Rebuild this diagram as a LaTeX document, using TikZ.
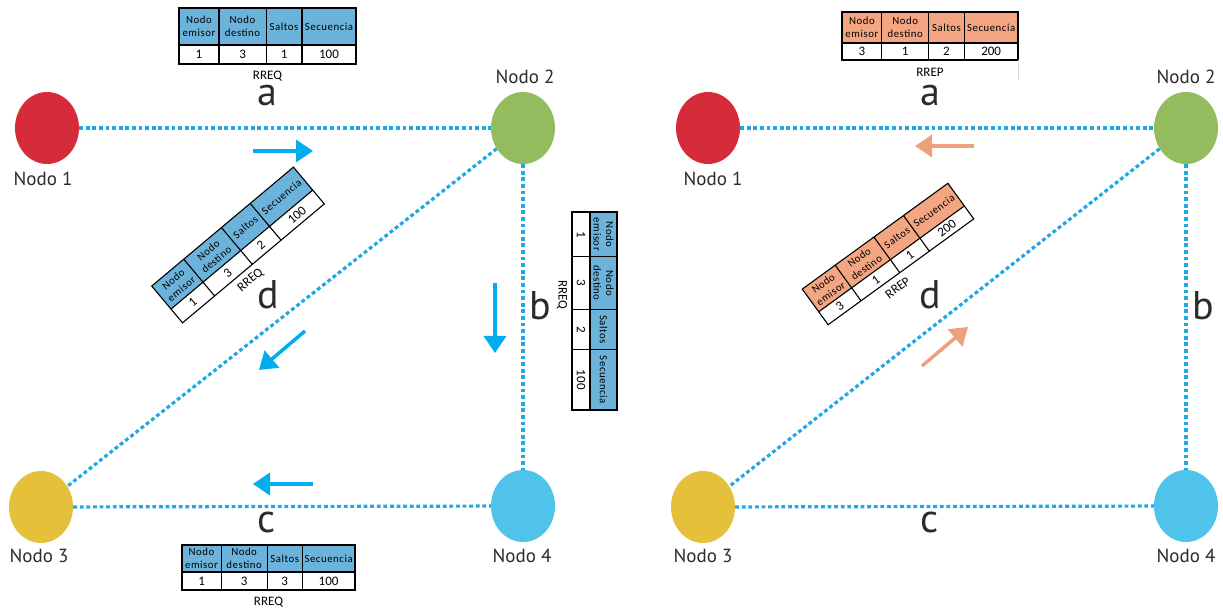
\documentclass[tikz,border=0pt]{standalone}
\usepackage{fontspec}
\setmainfont{PT Sans}
\newfontfamily\tabfont{Carlito}
\newfontfamily\tabheadfont{Carlito}[LetterSpace=5]
\usetikzlibrary{shapes.geometric,arrows.meta}

\definecolor{nred}{HTML}{D62B3A}
\definecolor{ngreen}{HTML}{93BC5E}
\definecolor{nyellow}{HTML}{E5C03A}
\definecolor{nblue}{HTML}{4FC3EA}
\definecolor{linkblue}{HTML}{1FA9E3}
\definecolor{arrblue}{HTML}{00AEEF}
\definecolor{arrsalmon}{HTML}{ECA07D}
\definecolor{hdblue}{HTML}{6CB3DB}
\definecolor{hdsalmon}{HTML}{F4A582}
\definecolor{labgray}{HTML}{2B2B2B}

\tikzset{
  nodo/.style={ellipse, minimum width=64pt, minimum height=72pt, inner sep=0pt, draw=none},
  nlab/.style={font=\fontsize{19}{22}\selectfont, text=labgray, inner sep=0pt},
  elab/.style={font=\fontsize{40}{44}\selectfont, text=labgray, inner sep=0pt},
  link/.style={draw=linkblue, line width=3.2pt, dash pattern=on 3.8pt off 2.8pt},
  flow/.style={line width=3.5pt, -{Triangle[length=17pt,width=22pt]}},
  tabline/.style={draw=black, line width=1.1pt},
  hd/.style={font=\tabheadfont\fontsize{10.8}{12.5}\selectfont, align=center, inner sep=0pt},
  val/.style={font=\tabfont\fontsize{13}{14}\selectfont, inner sep=0pt},
  plab/.style={font=\tabfont\fontsize{13}{14}\selectfont, inner sep=0pt},
}

\def\labdx{0}
\def\labdy{12}
\newcommand{\pktvals}[5]{%
  \node[val] (#1-v1) at ({(\pkXa+\pkXb)/2},{(\pkYb+\pkYc)/2}) {#2};
  \node[val] (#1-v2) at ({(\pkXb+\pkXc)/2},{(\pkYb+\pkYc)/2}) {#3};
  \node[val] (#1-v3) at ({(\pkXc+\pkXd)/2},{(\pkYb+\pkYc)/2}) {#4};
  \node[val] (#1-v4) at ({(\pkXd+\pkXe)/2},{(\pkYb+\pkYc)/2}) {#5};
}
% #1 name, #2 centre, #3 angle, #4 width, #5 header h, #6 data h, #7 fill, #8 label, #9 values
\newcommand{\pkt}[9]{%
  \begin{scope}[shift={#2}, rotate=#3, transform shape]
    \pgfmathsetmacro{\pkW}{#4}
    \pgfmathsetmacro{\pkXa}{-\pkW/2}
    \pgfmathsetmacro{\pkXb}{\pkXa+0.226*\pkW}
    \pgfmathsetmacro{\pkXc}{\pkXa+0.492*\pkW}
    \pgfmathsetmacro{\pkXd}{\pkXa+0.695*\pkW}
    \pgfmathsetmacro{\pkXe}{\pkW/2}
    \pgfmathsetmacro{\pkYa}{-(#5+#6)/2}
    \pgfmathsetmacro{\pkYb}{\pkYa+#5}
    \pgfmathsetmacro{\pkYc}{\pkYb+#6}
    \fill[#7] (\pkXa,\pkYa) rectangle (\pkXe,\pkYb);
    \draw[tabline] (\pkXa,\pkYa) rectangle (\pkXe,\pkYc)
      (\pkXa,\pkYb) -- (\pkXe,\pkYb)
      (\pkXb,\pkYa) -- (\pkXb,\pkYc)
      (\pkXc,\pkYa) -- (\pkXc,\pkYc)
      (\pkXd,\pkYa) -- (\pkXd,\pkYc);
    \node[hd] (#1-h1) at ({(\pkXa+\pkXb)/2},{(\pkYa+\pkYb)/2}) {Nodo\\emisor};
    \node[hd] (#1-h2) at ({(\pkXb+\pkXc)/2},{(\pkYa+\pkYb)/2}) {Nodo\\destino};
    \node[hd] (#1-h3) at ({(\pkXc+\pkXd)/2},{(\pkYa+\pkYb)/2}) {Saltos};
    \node[hd] (#1-h4) at ({(\pkXd+\pkXe)/2},{(\pkYa+\pkYb)/2}) {Secuencia};
    \pktvals{#1}#9
    \node[plab] (#1-lab) at (\labdx,{\pkYc+\labdy}) {#8};
  \end{scope}}

\begin{document}
\begin{tikzpicture}[x=1pt,y=-1pt]
\useasboundingbox (0,0) rectangle (1223,609);

%%%%%%%%%% LEFT PANEL %%%%%%%%%%
\node[nodo, fill=nred]    (L1) at (47,128) {};
\node[nodo, fill=ngreen]  (L2) at (523,128) {};
\node[nodo, fill=nyellow] (L3) at (41,507) {};
\node[nodo, fill=nblue]   (L4) at (523,506) {};
\node[nlab] (L1t) at (43,179) {Nodo 1};
\node[nlab] (L2t) at (525,77) {Nodo 2};
\node[nlab] (L3t) at (39,556) {Nodo 3};
\node[nlab] (L4t) at (522,556) {Nodo 4};

\draw[link] (L1) -- (L2);
\draw[link] (L2) -- (L4);
\draw[link] (L3) -- (L4);
\draw[link] (L2) -- (L3);

\node[elab] (La) at (267,96) {a};
\node[elab] (Lb) at (540,306) {b};
\node[elab] (Lc) at (267,522) {c};
\node[elab] (Ld) at (268,295) {d};

\coordinate (La0) at (253,151); \coordinate (La1) at (313,151);
\coordinate (Lb0) at (495,283); \coordinate (Lb1) at (495,353);
\coordinate (Lc0) at (313,484); \coordinate (Lc1) at (253,484);
\coordinate (Ld0) at (305,331); \coordinate (Ld1) at (259,370);
\draw[flow, arrblue] (La0) -- (La1);
\draw[flow, arrblue] (Lb0) -- (Lb1);
\draw[flow, arrblue] (Lc0) -- (Lc1);
\draw[flow, arrblue] (Ld0) -- (Ld1);

\def\labdx{0}\def\labdy{12}
\pkt{Ta}{(267.5,36)}{0}{177}{37}{19}{hdblue}{RREQ}{{1}{3}{1}{100}}
\pkt{Tc}{(268.5,567.5)}{0}{173}{27}{18}{hdblue}{RREQ}{{1}{3}{3}{100}}
\def\labdx{-13}\def\labdy{11}
\pkt{Td}{(238,245)}{40}{185}{30}{18}{hdblue}{RREQ}{{1}{3}{2}{100}}
\def\labdx{-16}\def\labdy{10}
\pkt{Tb}{(594.5,311)}{-90}{198}{27}{18}{hdblue}{RREQ}{{1}{3}{2}{100}}

%%%%%%%%%% RIGHT PANEL %%%%%%%%%%
\node[nodo, fill=nred]    (R1) at (708,128) {};
\node[nodo, fill=ngreen]  (R2) at (1186,128) {};
\node[nodo, fill=nyellow] (R3) at (703,507) {};
\node[nodo, fill=nblue]   (R4) at (1186,506) {};
\node[nlab] (R1t) at (713,179) {Nodo 1};
\node[nlab] (R2t) at (1186,77) {Nodo 2};
\node[nlab] (R3t) at (703,556) {Nodo 3};
\node[nlab] (R4t) at (1186,556) {Nodo 4};

\draw[link] (R1) -- (R2);
\draw[link] (R2) -- (R4);
\draw[link] (R3) -- (R4);
\draw[link] (R2) -- (R3);

\node[elab] (Ra) at (930,96) {a};
\node[elab] (Rb) at (1203,306) {b};
\node[elab] (Rc) at (930,522) {c};
\node[elab] (Rd) at (930,295) {d};

\coordinate (Ra0) at (974,146); \coordinate (Ra1) at (915,146);
\coordinate (Rd0) at (922,366); \coordinate (Rd1) at (968,327);
\draw[flow, arrsalmon] (Ra0) -- (Ra1);
\draw[flow, arrsalmon] (Rd0) -- (Rd1);

\def\labdx{0}\def\labdy{12}
\pkt{Sa}{(930,36)}{0}{176}{31}{17}{hdsalmon}{RREP}{{3}{1}{2}{200}}
\def\labdx{-12}\def\labdy{11}
\pkt{Sd}{(888,254)}{36}{180}{28}{16}{hdsalmon}{RREP}{{3}{1}{1}{200}}
\coordinate (Sg0) at (1018,60); \coordinate (Sg1) at (1018,80);
\draw[black!15, line width=0.8pt] (Sg0) -- (Sg1);

\end{tikzpicture}
\end{document}
